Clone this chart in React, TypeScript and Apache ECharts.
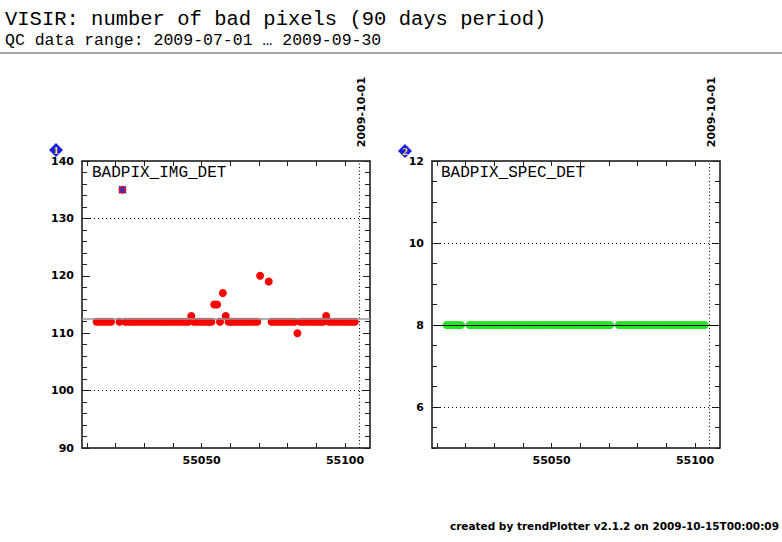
import React, { useEffect, useRef } from 'react';
import * as echarts from 'echarts';

// observation days (MJD), shared by both detectors
const obsDays = [
  55013, 55014, 55015, 55016, 55017, 55018,
  55021, 55022, 55023, 55024, 55025, 55026, 55027, 55028, 55029, 55030,
  55031, 55032, 55033, 55034, 55035, 55036, 55037, 55038, 55039, 55040,
  55041, 55042, 55043, 55044, 55045, 55046, 55047, 55048, 55049, 55050,
  55051, 55052, 55053, 55054, 55055, 55056, 55057, 55058, 55059, 55060,
  55061, 55062, 55063, 55064, 55065, 55066, 55067, 55068, 55069, 55070,
  55073, 55074, 55075, 55076, 55077, 55078, 55079, 55080, 55081, 55082,
  55083, 55084, 55085, 55086, 55087, 55088, 55089, 55090, 55091, 55092,
  55093, 55094, 55095, 55096, 55097, 55098, 55099, 55100, 55101, 55102,
  55103,
];
const OBS_TIME = 0.4; // fraction of day when the QC frames were taken

const imgValues = [
  112, 112, 112, 112, 112, 112,
  112, 135, 112, 112, 112, 112, 112, 112, 112, 112,
  112, 112, 112, 112, 112, 112, 112, 112, 112, 112,
  112, 112, 112, 112, 112, 113, 112, 112, 112, 112,
  112, 112, 112, 115, 115, 112, 117, 113, 112, 112,
  112, 112, 112, 112, 112, 112, 112, 112, 112, 120,
  119, 112, 112, 112, 112, 112, 112, 112, 112, 112,
  110, 112, 112, 112, 112, 112, 112, 112, 112, 112,
  113, 112, 112, 112, 112, 112, 112, 112, 112, 112,
  112,
];
const specValues = [
  8, 8, 8, 8, 8, 8,
  8, 8, 8, 8, 8, 8, 8, 8, 8, 8,
  8, 8, 8, 8, 8, 8, 8, 8, 8, 8,
  8, 8, 8, 8, 8, 8, 8, 8, 8, 8,
  8, 8, 8, 8, 8, 8, 8, 8, 8, 8,
  8, 8, 8, 8, 8, 8, 8, 8, 8, 8,
  8, 8, 8, 8, 8, 8, 8, 8, 8, 8,
  8, 8, 8, 8, 8, 8, 8, 8, 8, 8,
  8, 8, 8, 8, 8, 8, 8, 8, 8, 8,
  8,
];
// flagged outliers (BADPIX_IMG_DET)
const imgOutlierDays = [55022];
const imgOutlierValues = [135];

// thresholds (dotted lines)
const imgLimits = [100, 130];
const specLimits = [6, 10];
const markDay = 55105; // 2009-10-01
const markLabel = '2009-10-01';

// axis ticks
const xRange = [55008.3, 55108.7];
const xTicks = [55010, 55020, 55030, 55040, 55050, 55060, 55070, 55080, 55090, 55100];
const xLabels = [55050, 55100];
const imgRange = [90, 140];
const specRange = [5, 12];
const specLabels = [6, 8, 10, 12];

const mean = (a: number[]) => a.reduce((s, v) => s + v, 0) / a.length;

const TICK = '#222';
const LABEL_FONT = { fontFamily: 'DejaVu Sans', fontWeight: 'bold' as const, fontSize: 11, color: '#000' };

export default function App() {
  const chartRef = useRef<HTMLDivElement>(null);

  useEffect(() => {
    if (!chartRef.current) return;
    const chart = echarts.init(chartRef.current, null, { renderer: 'svg' });

    const imgData = obsDays.map((d, i) => [d + OBS_TIME, imgValues[i]]);
    const specData = obsDays.map((d, i) => [d + OBS_TIME, specValues[i]]);
    const outData = imgOutlierDays.map((d, i) => [d + OBS_TIME, imgOutlierValues[i]]);

    const xAx = (grid: number, pos: 'bottom' | 'top') => ({
      type: 'value',
      gridIndex: grid,
      position: pos,
      min: xRange[0],
      max: xRange[1],
      axisLine: { show: false },
      splitLine: { show: false },
      axisTick: { inside: true, length: 5, customValues: xTicks, lineStyle: { color: TICK, width: 1 } },
      axisLabel:
        pos === 'bottom'
          ? { customValues: xLabels, margin: 7, formatter: (v: number) => String(v), ...LABEL_FONT }
          : { show: false },
    });

    const yAx = (grid: number, pos: 'left' | 'right', range: number[], opts: any) => ({
      type: 'value',
      gridIndex: grid,
      position: pos,
      min: range[0],
      max: range[1],
      axisLine: { show: false },
      splitLine: { show: false },
      ...opts,
      axisTick: { inside: true, lineStyle: { color: TICK, width: 1 }, ...opts.axisTick },
      axisLabel: opts.axisLabel ? { margin: 8, ...LABEL_FONT, ...opts.axisLabel } : { show: false },
    });

    const limitLines = (vals: number[]) =>
      vals.map((v) => ({ yAxis: v, lineStyle: { color: '#000', width: 1, type: [1, 3] } }));

    const dayLine = { xAxis: markDay, lineStyle: { color: '#000', width: 1, type: [1, 2.5] } };

    const option = {
      animation: false,
      grid: [
        { left: 82, top: 161, width: 288, height: 287, show: true, borderColor: '#111', borderWidth: 1.5, backgroundColor: 'transparent' },
        { left: 432, top: 161, width: 288, height: 287, show: true, borderColor: '#111', borderWidth: 1.5, backgroundColor: 'transparent' },
      ],
      xAxis: [xAx(0, 'bottom'), xAx(0, 'top'), xAx(1, 'bottom'), xAx(1, 'top')],
      yAxis: [
        yAx(0, 'left', imgRange, { interval: 10, axisTick: { length: 8 }, axisLabel: {} }),
        yAx(0, 'left', imgRange, { interval: 2, axisTick: { length: 5 } }),
        yAx(0, 'right', imgRange, { interval: 10, axisTick: { length: 7 } }),
        yAx(0, 'right', imgRange, { interval: 2, axisTick: { length: 5 } }),
        yAx(1, 'left', specRange, { axisTick: { length: 8, customValues: specLabels }, axisLabel: { customValues: specLabels } }),
        yAx(1, 'left', specRange, { interval: 0.5, axisTick: { length: 5 } }),
        yAx(1, 'right', specRange, { axisTick: { length: 7, customValues: specLabels } }),
        yAx(1, 'right', specRange, { interval: 0.5, axisTick: { length: 5 } }),
      ],
      series: [
        {
          name: 'BADPIX_IMG_DET',
          type: 'scatter',
          xAxisIndex: 0,
          yAxisIndex: 0,
          data: imgData,
          symbolSize: 8,
          itemStyle: { color: '#ff0000', opacity: 1 },
          silent: true,
          z: 2,
          markLine: {
            silent: true,
            symbol: 'none',
            label: { show: false },
            data: [
              ...limitLines(imgLimits),
              dayLine,
              { yAxis: mean(imgValues), lineStyle: { color: '#999', width: 1.5, type: 'solid' } },
            ],
          },
        },
        {
          name: 'outlier',
          type: 'scatter',
          xAxisIndex: 0,
          yAxisIndex: 0,
          data: outData,
          symbol: 'path://M0,1.5L1.5,0L5,3.5L8.5,0L10,1.5L6.5,5L10,8.5L8.5,10L5,6.5L1.5,10L0,8.5L3.5,5Z',
          symbolSize: 8,
          itemStyle: { color: '#3030d0', opacity: 1 },
          silent: true,
          z: 3,
        },
        {
          name: 'BADPIX_SPEC_DET',
          type: 'scatter',
          xAxisIndex: 2,
          yAxisIndex: 4,
          data: specData,
          symbolSize: 8,
          itemStyle: { color: '#22e622', opacity: 1 },
          silent: true,
          z: 2,
          markLine: {
            silent: true,
            symbol: 'none',
            label: { show: false },
            data: [
              ...limitLines(specLimits),
              dayLine,
              { yAxis: mean(specValues), lineStyle: { color: '#000', width: 1.2, type: 'solid' } },
            ],
          },
        },
      ],
      graphic: [
        { type: 'text', style: { text: 'VISIR: number of bad pixels (90 days period)', x: 5, y: 19, verticalAlign: 'middle', font: '20.5px "Liberation Mono"', fill: '#000' } },
        { type: 'text', style: { text: 'QC data range: 2009-07-01 … 2009-09-30', x: 5, y: 40, verticalAlign: 'middle', font: '16.5px "Liberation Mono"', fill: '#000' } },
        { type: 'line', shape: { x1: 0, y1: 53, x2: 782, y2: 53 }, style: { stroke: '#888', lineWidth: 1.5 } },
        { type: 'text', style: { text: 'BADPIX_IMG_DET', x: 92, y: 173, verticalAlign: 'middle', font: '16px "Liberation Mono"', fill: '#000' } },
        { type: 'text', style: { text: 'BADPIX_SPEC_DET', x: 441, y: 173, verticalAlign: 'middle', font: '16px "Liberation Mono"', fill: '#000' } },
        { type: 'text', x: 361, y: 112, rotation: Math.PI / 2, style: { text: markLabel, x: 0, y: 0, align: 'center', verticalAlign: 'middle', font: 'bold 11px "DejaVu Sans"', fill: '#000' } },
        { type: 'text', x: 711, y: 112, rotation: Math.PI / 2, style: { text: markLabel, x: 0, y: 0, align: 'center', verticalAlign: 'middle', font: 'bold 11px "DejaVu Sans"', fill: '#000' } },
        { type: 'polygon', shape: { points: [[56, 143], [63, 150], [56, 157], [49, 150]] }, style: { fill: '#1a1aff' }, z: 10 },
        { type: 'text', z: 11, style: { text: '1', x: 56, y: 150, align: 'center', verticalAlign: 'middle', font: 'bold 11px "Liberation Serif"', fill: '#ffee00' } },
        { type: 'polygon', shape: { points: [[405, 144], [412, 151], [405, 158], [398, 151]] }, style: { fill: '#1a1aff' }, z: 10 },
        { type: 'text', z: 11, style: { text: '2', x: 405, y: 151, align: 'center', verticalAlign: 'middle', font: 'bold 11px "Liberation Serif"', fill: '#ffee00' } },
        { type: 'text', style: { text: 'created by trendPlotter v2.1.2 on 2009-10-15T00:00:09', x: 779, y: 526, align: 'right', verticalAlign: 'middle', font: 'bold 10.5px "DejaVu Sans"', fill: '#000' } },
      ],
    };

    chart.setOption(option as any);
    return () => chart.dispose();
  }, []);

  return <div ref={chartRef} style={{ position: 'absolute', left: 0, top: 0, width: 782, height: 542 }} />;
}
